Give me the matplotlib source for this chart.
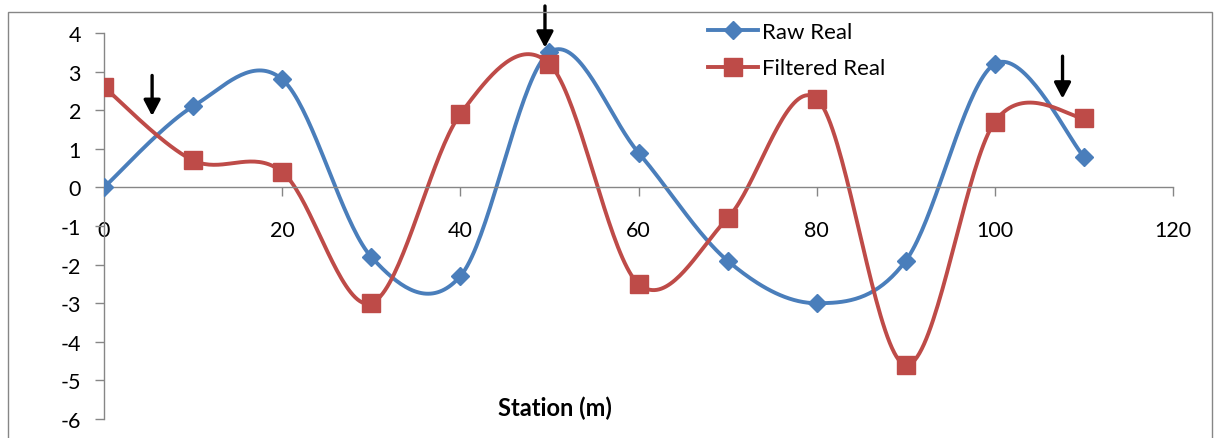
import numpy as np
import matplotlib.pyplot as plt
from matplotlib.patches import Rectangle

####### Data #######
station = [0, 10, 20, 30, 40, 50, 60, 70, 80, 90, 100, 110]
raw_real = [0.0, 2.1, 2.8, -1.8, -2.3, 3.5, 0.9, -1.9, -3.0, -1.9, 3.2, 0.8]
filtered_real = [2.6, 0.7, 0.4, -3.0, 1.9, 3.2, -2.5, -0.8, 2.3, -4.6, 1.7, 1.8]
x_ticks = [0, 20, 40, 60, 80, 100, 120]
y_ticks = [-6, -5, -4, -3, -2, -1, 0, 1, 2, 3, 4]
# arrows: (x, y_start, y_end)
arrows = [(5.4, 2.9, 1.85), (49.5, 4.7, 3.62), (107.6, 3.4, 2.3)]

BLUE = "#4A7EBB"
RED = "#BE4B48"
GREY = "#868686"


def excel_smooth(x, y, n=40):
    """Catmull-Rom style bezier, like Excel's smoothed line"""
    pts = np.column_stack([x, y]).astype(float)
    ext = np.vstack([pts[0], pts, pts[-1]])
    out = []
    t = np.linspace(0, 1, n)[:, None]
    for i in range(len(pts) - 1):
        p0, p1, p2, p3 = ext[i], ext[i + 1], ext[i + 2], ext[i + 3]
        c1 = p1 + (p2 - p0) / 6.0
        c2 = p2 - (p3 - p1) / 6.0
        seg = ((1 - t) ** 3) * p1 + 3 * ((1 - t) ** 2) * t * c1 + 3 * (1 - t) * t ** 2 * c2 + t ** 3 * p2
        out.append(seg if i == 0 else seg[1:])
    out = np.vstack(out)
    return out[:, 0], out[:, 1]


plt.rcParams['font.family'] = ['Lato', 'DejaVu Sans']
plt.rcParams['axes.unicode_minus'] = False

fig = plt.figure(figsize=(12.19, 4.39), dpi=100)
ax = fig.add_axes([104 / 1219, 1 - 420 / 439, (1173 - 104) / 1219, (420 - 34) / 439])

fig.patches.append(Rectangle((8 / 1219, -0.1), (1212 - 8) / 1219, 1.1 - 13 / 439,
                             transform=fig.transFigure, fill=False, edgecolor=GREY, lw=1.0))

for vals, col, mk, ms, name in [(raw_real, BLUE, "D", 9.5, "Raw Real"),
                                (filtered_real, RED, "s", 12.5, "Filtered Real")]:
    sx, sy = excel_smooth(station, vals)
    ax.plot(sx, sy, color=col, lw=2.8, solid_capstyle="round", zorder=2)
    ax.plot(station, vals, linestyle="none", marker=mk, markersize=ms, color=col, zorder=3)
    ax.plot([], [], color=col, lw=2.8, marker=mk, markersize=ms, label=name)

for ax_x, y0, y1 in arrows:
    ax.annotate("", xy=(ax_x, y1), xytext=(ax_x, y0), annotation_clip=False,
                arrowprops=dict(arrowstyle="-|>,head_length=0.95,head_width=0.5",
                                color="black", lw=2.4, shrinkA=0, shrinkB=0))

ax.set_xlim(0, 120)
ax.set_ylim(-6, 4)
ax.set_xticks(x_ticks)
ax.set_yticks(y_ticks)
ax.spines['top'].set_visible(False)
ax.spines['right'].set_visible(False)
ax.spines['bottom'].set_position(('data', 0))
for s in ['left', 'bottom']:
    ax.spines[s].set_color(GREY)
    ax.spines[s].set_linewidth(1.0)
ax.tick_params(axis='x', direction='out', length=6.5, width=1.0, color=GREY, pad=17, labelsize=15.5)
ax.tick_params(axis='y', direction='out', length=6.5, width=1.0, color=GREY, pad=10, labelsize=15.5)

fig.text(555 / 1219, 1 - 408 / 439, "Station (m)", ha="center", va="center",
         fontsize=17, fontweight="bold")

ax.legend(loc="upper left", bbox_to_anchor=(690 / 1219, 1 - 5 / 439), bbox_transform=fig.transFigure,
          frameon=False, fontsize=16, handlelength=2.25, handletextpad=0.2, labelspacing=0.75,
          borderpad=0.3)

fig.savefig("out.png", dpi=100)
